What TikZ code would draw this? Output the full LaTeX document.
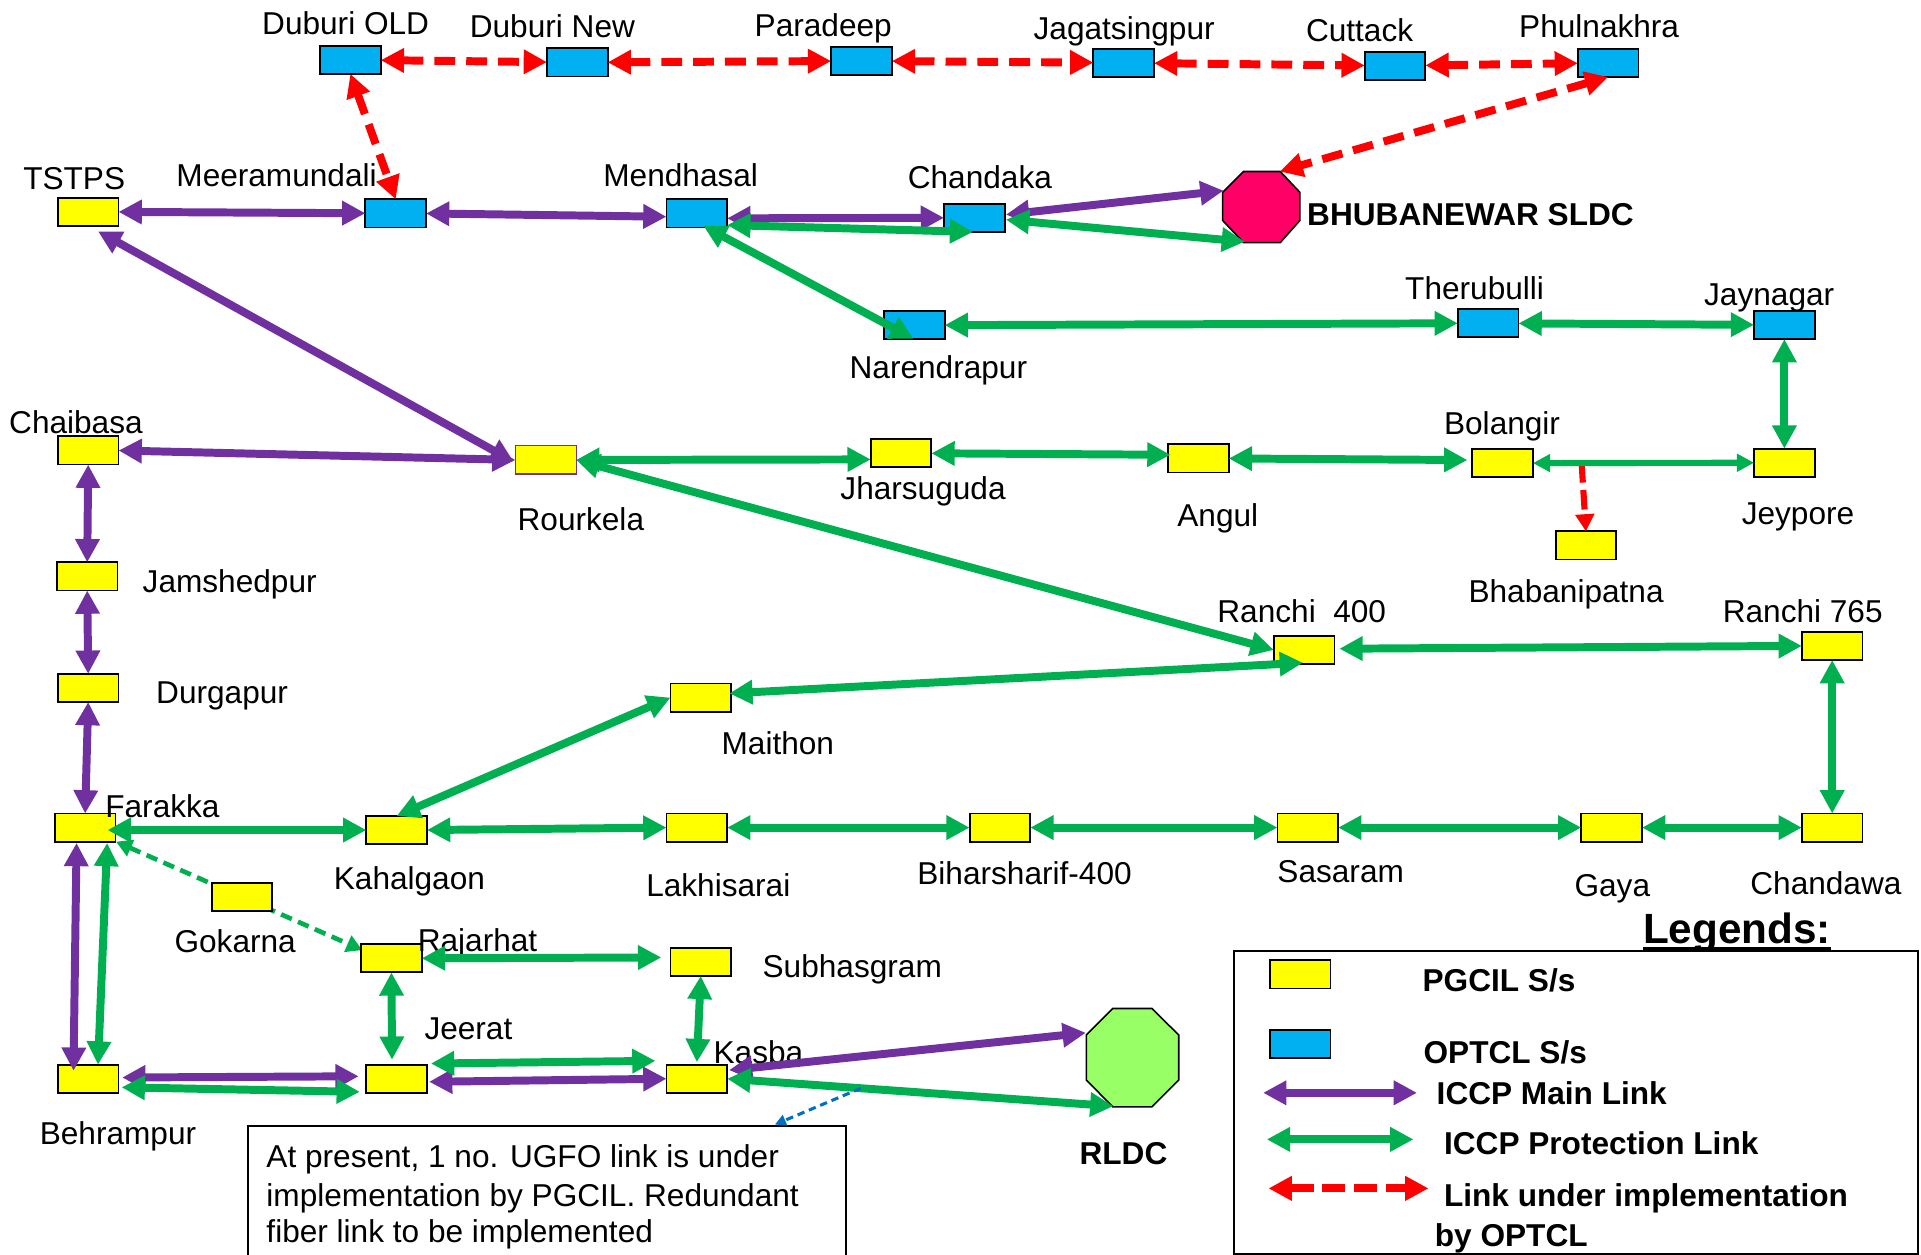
\documentclass[tikz,border=0pt]{standalone}
\usepackage{fontspec}
\setmainfont{Liberation Sans}
\usetikzlibrary{arrows.meta,calc}
\pgfdeclarelayer{bg}
\pgfsetlayers{bg,main}
\definecolor{pgy}{HTML}{FFFF00}
\definecolor{opb}{HTML}{00B0F0}
\definecolor{pur}{HTML}{7030A0}
\definecolor{grn}{HTML}{00B050}
\definecolor{sldcc}{HTML}{FF0066}
\definecolor{rldcc}{HTML}{99FF66}
\definecolor{ntb}{HTML}{0070C0}
\newcommand\lblf{\fontsize{25.8pt}{31pt}\selectfont}
\newcommand\legf{\fontsize{34.5pt}{40pt}\selectfont\bfseries}
\begin{document}
\begin{tikzpicture}[x=1pt,y=-1pt,
  sbox/.style={rectangle, draw=black, line width=1.5pt, minimum width=49.5pt, minimum height=23pt, inner sep=0pt, outer sep=0pt},
  pg/.style={sbox, fill=pgy},
  op/.style={sbox, fill=opb},
  octo/.style={rectangle, inner sep=0pt, outer sep=0pt},
  lab/.style={anchor=base west, inner sep=0pt, outer sep=0pt, font=\lblf},
  blab/.style={lab, font=\lblf\bfseries},
  lk/.style={line width=6.5pt, arrows={Triangle[length=19pt,width=19pt]-Triangle[length=19pt,width=19pt]}},
  pu/.style={lk, draw=pur},
  gr/.style={lk, draw=grn},
  grthin/.style={line width=5pt, draw=grn, arrows={Triangle[length=14pt,width=14pt]-Triangle[length=14pt,width=14pt]}},
  rd/.style={lk, draw=red, dash pattern=on 17pt off 9pt},
  rdone/.style={line width=5pt, draw=red, dash pattern=on 16pt off 6pt, arrows={-Triangle[length=14pt,width=15pt]}},
  grd/.style={line width=3.8pt, draw=grn, dash pattern=on 9.5pt off 5.5pt, arrows={Triangle[length=13pt,width=14pt]-Triangle[length=13pt,width=14pt]}},
  ntarrow/.style={line width=2.5pt, draw=ntb, dash pattern=on 6pt off 4pt, arrows={-Triangle[length=9pt,width=9pt]}}
]
\useasboundingbox (0,0) rectangle (1568,1023.6);

% ---------- OPTCL substations ----------
\node[op] (dold) at (286,48.8) {};
\node[op] (dnew) at (471.2,51) {};
\node[op] (para) at (703.2,49.7) {};
\node[op] (jaga) at (917.2,51.3) {};
\node[op] (cutt) at (1138.7,53.7) {};
\node[op] (phul) at (1312.7,51.3) {};
\node[op] (meer) at (323,174.2) {};
\node[op] (mend) at (568.8,174.2) {};
\node[op] (chan) at (795.3,177.8) {};
\node[op] (nare) at (746.3,265.5) {};
\node[op] (ther) at (1214.7,263.8) {};
\node[op] (jayn) at (1456.5,265.3) {};

% ---------- PGCIL substations ----------
\node[pg] (tstps) at (72,172.8) {};
\node[pg] (chai) at (72,367.7) {};
\node[pg] (jams) at (71.2,470.5) {};
\node[pg] (durg) at (72,561.5) {};
\node[pg] (fara) at (69.5,675.5) {};
\node[pg, draw=pur, line width=1pt] (rour) at (445.5,375.4) {};
\node[pg] (jhar) at (735.5,370) {};
\node[pg] (angu) at (978.2,374.2) {};
\node[pg] (bola) at (1226.5,378) {};
\node[pg] (jeyp) at (1456.5,377.7) {};
\node[pg] (bhab) at (1294.5,445.2) {};
\node[pg] (r400) at (1064.5,530.5) {};
\node[pg] (r765) at (1495.5,527.2) {};
\node[pg] (mait) at (572,569.4) {};
\node[pg] (kaha) at (323.8,677.5) {};
\node[pg] (lakh) at (568.8,675.5) {};
\node[pg] (biha) at (816.2,675.5) {};
\node[pg] (sasa) at (1067.5,675.5) {};
\node[pg] (gaya) at (1315.5,675.5) {};
\node[pg] (chdw) at (1495.5,675.5) {};
\node[pg] (goka) at (197.5,732) {};
\node[pg] (raja) at (319.5,782.2) {};
\node[pg] (subh) at (572,785) {};
\node[pg] (behr) at (72,880.5) {};
\node[pg] (jeer) at (323.5,880.5) {};
\node[pg] (kasb) at (568.8,880.5) {};

% ---------- control centres ----------
\node[octo, minimum width=63pt, minimum height=58pt] (sldc) at (1029.5,169) {};
\draw[line width=1.3pt, fill=sldcc]
  ($(sldc.center)+(-14.5,-29)$) -- ($(sldc.center)+(15.5,-29)$) -- ($(sldc.center)+(31.5,-12)$) --
  ($(sldc.center)+(31.5,11)$) -- ($(sldc.center)+(15.5,29)$) -- ($(sldc.center)+(-14.5,29)$) --
  ($(sldc.center)+(-31.5,11)$) -- ($(sldc.center)+(-31.5,-12)$) -- cycle;
\node[octo, minimum width=75pt, minimum height=80pt] (rldc) at (924.1,863.3) {};
\draw[line width=1.3pt, fill=rldcc]
  ($(rldc.center)+(-15.9,-40.1)$) -- ($(rldc.center)+(16.2,-40.1)$) -- ($(rldc.center)+(38,-18.5)$) --
  ($(rldc.center)+(38,18.2)$) -- ($(rldc.center)+(16.2,40.1)$) -- ($(rldc.center)+(-15.9,40.1)$) --
  ($(rldc.center)+(-37.4,18.2)$) -- ($(rldc.center)+(-37.4,-18.5)$) -- cycle;

% ---------- note box ----------
\node[draw, line width=1.5pt, anchor=north west, minimum width=488.5pt, minimum height=130pt, inner sep=0pt] (note) at (201.5,918.4) {};
\node[lab] (note1) at (217.5,953.2) {At present, 1 no. UGFO link is under};
\node[lab] (note2) at (217.5,984.5) {implementation by PGCIL. Redundant};
\node[lab] (note3) at (217.5,1014.5) {fiber link to be implemented};

% ---------- labels ----------
\node[lab] (l-dold) at (214,28) {Duburi OLD};
\node[lab] (l-dnew) at (383.5,30.7) {Duburi New};
\node[lab] (l-para) at (616,29.4) {Paradeep};
\node[lab] (l-jaga) at (843.7,32.1) {Jagatsingpur};
\node[lab] (l-cutt) at (1066,33.5) {Cuttack};
\node[lab] (l-phul) at (1240,30.7) {Phulnakhra};
\node[lab] (l-tstps) at (19,154.5) {TSTPS};
\node[lab] (l-meer) at (144,152.4) {Meeramundali};
\node[lab] (l-mend) at (492.5,152.6) {Mendhasal};
\node[lab] (l-chan) at (741,154) {Chandaka};
\node[blab] (l-sldc) at (1067,183.7) {BHUBANEWAR SLDC};
\node[lab] (l-nare) at (693.5,309.1) {Narendrapur};
\node[lab] (l-ther) at (1147,244.4) {Therubulli};
\node[lab] (l-jayn) at (1391,249.2) {Jaynagar};
\node[lab] (l-chai) at (7.5,353.7) {Chaibasa};
\node[lab] (l-rour) at (422.5,432.6) {Rourkela};
\node[lab] (l-jhar) at (686,407.6) {Jharsuguda};
\node[lab] (l-angu) at (961,429.9) {Angul};
\node[lab] (l-bola) at (1178.7,354.5) {Bolangir};
\node[lab] (l-jeyp) at (1421.7,428) {Jeypore};
\node[lab] (l-bhab) at (1198.7,491.9) {Bhabanipatna};
\node[lab] (l-jams) at (116.5,483.8) {Jamshedpur};
\node[lab] (l-durg) at (127.5,574.4) {Durgapur};
\node[lab] (l-r400) at (993.7,507.7) {Ranchi\ \ 400};
\node[lab] (l-r765) at (1406.2,507.7) {Ranchi 765};
\node[lab] (l-mait) at (589,615.7) {Maithon};
\node[lab] (l-fara) at (86,667.5) {Farakka};
\node[lab] (l-kaha) at (272.5,726) {Kahalgaon};
\node[lab] (l-lakh) at (527.5,732) {Lakhisarai};
\node[lab] (l-biha) at (748.8,721.9) {Biharsharif-400};
\node[lab] (l-sasa) at (1042.7,720.6) {Sasaram};
\node[lab] (l-gaya) at (1285.2,731.5) {Gaya};
\node[lab] (l-chdw) at (1428.7,730.1) {Chandawa};
\node[lab] (l-goka) at (142.5,777.2) {Gokarna};
\node[lab] (l-raja) at (341,776.3) {Rajarhat};
\node[lab] (l-subh) at (622.5,798.1) {Subhasgram};
\node[lab] (l-jeer) at (346.5,848.5) {Jeerat};
\node[lab] (l-kasb) at (582.5,868.3) {Kasba};
\node[lab] (l-behr) at (32.5,934.2) {Behrampur};
\node[blab] (l-rldc) at (881.2,950.5) {RLDC};

% ---------- links under implementation (red dashed) ----------
\draw[rd] (dold) -- (dnew);
\draw[rd] (dnew) -- (para);
\draw[rd] (para) -- (jaga);
\draw[rd] (jaga) -- (cutt);
\draw[rd] (cutt) -- (phul);
\draw[rd] (dold.south) -- (meer.north);
\draw[rd] (phul.south) -- ($(sldc.center)+(15,-29)$);
\coordinate (bjmid) at ($(bola.east)!0.22!(jeyp.west)$);
\draw[rdone] (bjmid) -- (bhab.north);

% ---------- ICCP main links (purple) ----------
\draw[pu] (tstps) -- (meer);
\draw[pu] (meer.east) -- ($(mend.west)+(0,2.7)$);
\draw[pu] ($(mend.east)+(0,4)$) -- (chan.west);
\draw[pu] ($(chan.east)+(1,-2.6)$) -- ($(sldc.center)+(-30.8,-13.4)$);
\draw[pu] ($(tstps.south)+(8,4.5)$) -- ($(rour.west)+(-1.5,1.4)$);
\draw[pu] (chai.east) -- (rour.west);
\draw[pu] (chai.south) -- (jams.north);
\draw[pu] (jams.south) -- (durg.north);
\draw[pu] (durg.south) -- (fara.north);
\draw[pu] ($(fara.south)+(-7,1)$) -- ($(behr.north)+(-12,5)$);
\draw[pu] ($(behr.east)+(3,-1)$) -- ($(jeer.west)+(-6,-2)$);
\draw[pu] ($(jeer.east)+(2,2.5)$) -- (kasb.west);
\draw[pu] ($(kasb.east)+(1.5,-7)$) -- ($(rldc.center)+(-37.8,-20.3)$);

% ---------- ICCP protection links (green) ----------
\draw[gr] ($(mend.east)+(0,9.5)$) -- ($(chan.south)+(-1,0)$);
\draw[gr] ($(chan.east)+(1,1.5)$) -- ($(sldc.center)+(-13.3,28.3)$);
\draw[gr] ($(mend.south)+(5.3,-1.4)$) -- ($(nare.south)+(-0.7,-0.5)$);
\draw[gr] (nare) -- (ther);
\draw[gr] (ther) -- (jayn);
\draw[gr] (jayn.south) -- (jeyp.north);
\draw[gr] (rour.east) -- ($(jhar.west)+(0,5)$);
\draw[gr] (jhar.east) -- ($(angu.west)+(2,-3)$);
\draw[gr] (angu.east) -- ($(bola.west)+(-4,-2.5)$);
\draw[grthin] (bola.east) -- (jeyp.west);
\draw[gr] (rour.east) -- (r400.west);
\draw[gr] ($(r400.east)+(4,-1)$) -- (r765.west);
\draw[gr] ($(mait.east)+(-1.5,-3.4)$) -- ($(r400.south)+(-1,-1)$);
\draw[gr] (mait.west) -- (kaha.north);
\draw[gr] (r765.south) -- (chdw.north);
\draw[gr] ($(fara.east)+(-6.5,2)$) -- (kaha.west);
\draw[gr] (kaha.east) -- (lakh.west);
\draw[gr] (lakh.east) -- (biha.west);
\draw[gr] (biha.east) -- (sasa.west);
\draw[gr] (sasa.east) -- (gaya.west);
\draw[gr] (gaya.east) -- (chdw.west);
\draw[gr] ($(fara.south)+(18,1)$) -- ($(behr.north)+(8,0)$);
\draw[gr] (raja.east) -- ($(subh.west)+(-7.5,-3.5)$);
\draw[gr] (raja.south) -- ($(jeer.north)+(-3.5,-4)$);
\draw[gr] (subh.south) -- ($(kasb.north)+(0,-2)$);
\draw[gr] ($(behr.east)+(2.5,7)$) -- ($(jeer.west)+(-5,10.7)$);
\draw[gr] ($(jeer.east)+(3.5,-12.4)$) -- ($(kasb.west)+(-9,-14.6)$);
\coordinate (kG) at (kasb.east);
\coordinate (rG) at ($(rldc.center)+(-15.3,39.6)$);
\draw[gr] (kG) -- (rG);
\begin{pgfonlayer}{bg}
\draw[grd] ($(fara.south east)+(0.5,0)$) -- ($(raja.west)+(1,-6.7)$);
\end{pgfonlayer}

% ---------- note pointer ----------
\coordinate (ntS) at ($(kG)!0.346!(rG)$);
\draw[ntarrow] (ntS) -- ($(note.north west)+(431,-0.5)$);

% ---------- legend ----------
\node[lab, font=\legf] (legt) at (1341.2,770) {Legends:};
\draw[line width=3pt] (legt.base west) ++(0,4.5) coordinate (ulA) -- ($(legt.base east)+(0,4.5)$);
\node[draw, line width=1.5pt, anchor=north west, minimum width=558.5pt, minimum height=247pt, inner sep=0pt] (legbox) at (1006.2,775.5) {};
\node[pg] (legy) at (1061.2,795.3) {};
\node[op] (legb) at (1061.2,852.4) {};
\node[blab] (legyt) at (1161.2,809) {PGCIL S/s};
\node[blab] (legbt) at (1162,868) {OPTCL S/s};
\coordinate (lpA) at (1031,892);
\coordinate (lpB) at (1156.6,892);
\coordinate (lgA) at (1034,930);
\coordinate (lgB) at (1153.7,930);
\coordinate (lrA) at (1035.4,970);
\coordinate (lrB) at (1166,970);
\draw[pu] (lpA) -- (lpB);
\draw[gr] (lgA) -- (lgB);
\draw[lk, draw=red, dash pattern=on 19pt off 7pt] (lrA) -- (lrB);
\node[blab] (legpt) at (1172.7,901.5) {ICCP Main Link};
\node[blab] (leggt) at (1178.7,942.3) {ICCP Protection Link};
\node[blab] (legrt) at (1178.7,984.5) {Link under implementation};
\node[blab] (legrt2) at (1171.2,1017.1) {by OPTCL};
\end{tikzpicture}
\end{document}
